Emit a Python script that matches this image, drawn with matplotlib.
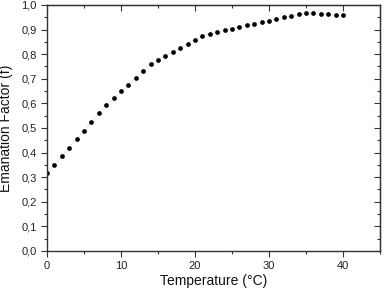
import numpy as np
import matplotlib.pyplot as plt
from matplotlib.ticker import MultipleLocator, FuncFormatter

plt.rcParams['font.family'] = ['Liberation Sans', 'DejaVu Sans']

temperature = list(range(0, 41))
emanation = [0.316, 0.350, 0.385, 0.420, 0.454, 0.489, 0.524, 0.560, 0.593, 0.620,
             0.649, 0.676, 0.703, 0.732, 0.760, 0.776, 0.793, 0.809, 0.826, 0.843,
             0.859, 0.876, 0.883, 0.889, 0.897, 0.904, 0.911, 0.917, 0.923, 0.930,
             0.936, 0.943, 0.950, 0.956, 0.962, 0.969, 0.966, 0.963, 0.962, 0.959,
             0.958]

fig = plt.figure(figsize=(3.87, 2.89), dpi=100)
ax = fig.add_axes([0.1214, 0.1315, 0.8606, 0.8512])

ax.plot(temperature, emanation, ':', color='#bbbbbb', lw=0.6, zorder=1)
ax.plot(temperature, emanation, 'o', color='black', ms=3.4, mec='none', zorder=2)

ax.set_xlim(0, 45)
ax.set_ylim(0, 1.0)
ax.xaxis.set_major_locator(MultipleLocator(10))
ax.xaxis.set_minor_locator(MultipleLocator(5))
ax.yaxis.set_major_locator(MultipleLocator(0.1))
ax.yaxis.set_minor_locator(MultipleLocator(0.05))
ax.yaxis.set_major_formatter(FuncFormatter(lambda v, p: f"{v:.1f}".replace('.', ',')))

for s in ax.spines.values():
    s.set_color('#333333')
    s.set_linewidth(1.0)

ax.tick_params(which='both', direction='out', colors='#333333', labelsize=8,
               labelcolor='#222222')
ax.tick_params(which='major', length=4, width=0.8)
ax.tick_params(which='minor', length=2.5, width=0.8)

# mirrored ticks on top and right, pointing inward
top = ax.secondary_xaxis('top')
top.xaxis.set_major_locator(MultipleLocator(10))
top.xaxis.set_minor_locator(MultipleLocator(5))
top.tick_params(which='both', direction='in', labeltop=False, colors='#333333')
top.tick_params(which='major', length=4, width=0.8)
top.tick_params(which='minor', length=2.5, width=0.8)
right = ax.secondary_yaxis('right')
right.yaxis.set_major_locator(MultipleLocator(0.1))
right.yaxis.set_minor_locator(MultipleLocator(0.05))
right.tick_params(which='both', direction='in', labelright=False, colors='#333333')
right.tick_params(which='major', length=4, width=0.8)
right.tick_params(which='minor', length=2.5, width=0.8)

ax.set_xlabel('Temperature (°C)', fontsize=10, color='#111111', labelpad=2)
ax.set_ylabel('Emanation Factor (f)', fontsize=10, color='#111111', labelpad=6)

fig.savefig('out.png', dpi=100)
